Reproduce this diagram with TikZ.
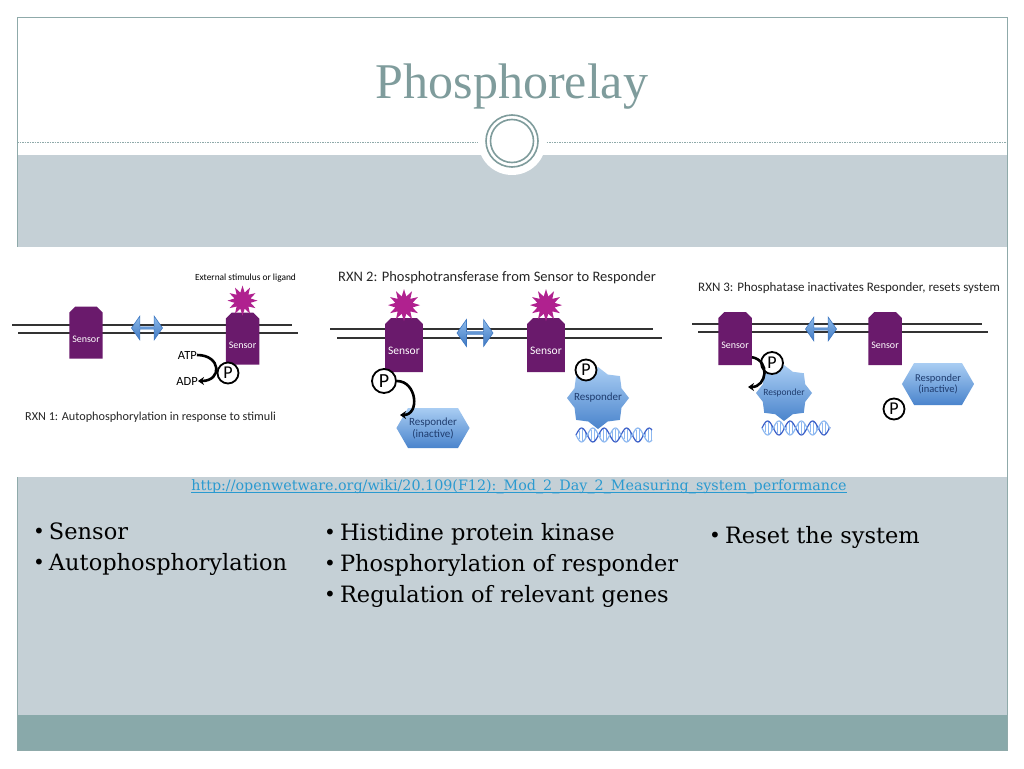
\documentclass[tikz,border=0pt]{standalone}
\usepackage{fontspec}
\setmainfont{DejaVu Serif}
\newfontfamily\titlefont{Liberation Serif}
\newfontfamily\panelfont{Carlito}
\usetikzlibrary{positioning,shapes.misc,shapes.geometric,shapes.arrows,shapes.symbols,arrows.meta}
\definecolor{framegray}{HTML}{8FAAAA}
\definecolor{bandgray}{HTML}{C5D0D6}
\definecolor{bandteal}{HTML}{89A9AA}
\definecolor{titleteal}{HTML}{7F9C9C}
\definecolor{sensorpurple}{HTML}{6A1A6C}
\definecolor{ligandpink}{HTML}{B0218F}
\definecolor{linkblue}{HTML}{2A9AD0}
\definecolor{resplight}{HTML}{A9CDF3}
\definecolor{respdark}{HTML}{4A84CC}
\definecolor{movelight}{HTML}{8DBBEB}
\definecolor{movedark}{HTML}{3F78C2}
\definecolor{resptext}{HTML}{1F3C6E}
\definecolor{dnadark}{HTML}{3B5FC8}
\definecolor{dnalight}{HTML}{8DB8F0}
\newcommand\bul{{\fontsize{20}{31}\selectfont\raisebox{1pt}{•}}\hspace{4pt}}
\begin{document}
\begin{tikzpicture}[x=1pt,y=1pt]
    \tikzstyle{sensor}=[chamfered rectangle, chamfered rectangle corners={north west,north east},
        chamfered rectangle xsep=3pt, chamfered rectangle ysep=3pt, fill=sensorpurple, text=white,
        minimum width=29pt, minimum height=52pt, inner sep=0pt, text height=19pt, text depth=0pt,
        font=\panelfont\fontsize{10}{10}\selectfont]
    \tikzstyle{ligand}=[star, star points=12, star point ratio=1.8, fill=ligandpink, minimum size=30pt, inner sep=0pt]
    \tikzstyle{exchange}=[double arrow, double arrow head extend=3pt, double arrow tip angle=110,
        minimum height=31pt, minimum width=24pt, inner sep=0pt, top color=movelight, bottom color=movedark,
        draw=movedark, line width=0.6pt]
    \tikzstyle{phos}=[circle, draw=black, line width=1.8pt, fill=white, minimum size=21pt, inner sep=0pt,
        font=\panelfont\fontsize{18}{18}\selectfont]
    \tikzstyle{respon}=[star, star points=8, star point ratio=1.22, minimum size=62pt, inner sep=-9pt,
        top color=resplight, bottom color=respdark, text=resptext, font=\panelfont\fontsize{10.5}{10.5}\selectfont]
    \tikzstyle{respoff}=[signal, signal to=east and west, signal pointer angle=120, minimum width=55pt,
        minimum height=40pt, inner sep=1pt, top color=resplight, bottom color=respdark, text=resptext,
        align=center, font=\panelfont\fontsize{11}{12}\selectfont]
    \tikzstyle{relay}=[line width=2.6pt, -{Stealth[length=6pt,width=8pt]}]
    \tikzstyle{membrane}=[line width=1.6pt, draw=black!80]
    \tikzstyle{rxn}=[font=\panelfont\fontsize{12.2}{12.2}\selectfont, text=black!85, inner sep=0pt, anchor=west]
    \tikzstyle{lab}=[font=\panelfont\fontsize{12.5}{12.5}\selectfont, inner sep=0pt]
    \tikzstyle{dnarung}=[dnalight, line width=0.8pt]
    \tikzstyle{points}=[anchor=north west, align=left, inner sep=0pt, font=\fontsize{22.5}{31}\selectfont]

    % slide frame
    \fill[white] (0,0) rectangle (1024,-768);
    \fill[bandgray] (17,-155) rectangle (1007,-715);
    \fill[bandteal] (17,-715) rectangle (1007,-750);
    \draw[framegray, dash pattern=on 1.5pt off 1pt, line width=0.8pt] (17,-142) -- (486,-142) (539,-142) -- (1007,-142);
    \fill[white] (512,-141) circle (34);
    \draw[titleteal, line width=1.6pt] (512,-141) circle (26) (512,-141) circle (21.5);
    \draw[framegray, line width=0.8pt] (17,-17) rectangle (1007,-750);
    \node[font=\titlefont\fontsize{50}{50}\selectfont, text=titleteal, anchor=base] (title) at (512,-98) {Phosphorelay};

    % picture area
    \fill[white] (0,-247) rectangle (1007,-477);

    % RXN 1
    \draw[membrane] (12,-325) -- (292,-325) (18,-333) -- (298,-333);
    \node[sensor] (sensA) at (86,-332.5) {Sensor};
    \node[exchange] (moveA) at (147,-328) {};
    \node[sensor] (sensB) at (242.5,-338.5) {Sensor};
    \node[ligand, above=-4pt of sensB] (ligA) {};
    \node[lab, font=\panelfont\fontsize{9.4}{9.4}\selectfont, above=3pt of ligA, xshift=3pt] (stimA) {External stimulus or ligand};
    \node[phos] (pA) at (228,-373) {P};
    \node[lab, anchor=east] (atp) at (197,-355) {ATP};
    \node[lab, anchor=east] (adp) at (198,-381) {ADP};
    \draw[relay] (atp.east) to[out=0,in=0,looseness=2.4] (adp.east);
    \node[rxn] (rxnA) at (25,-417) {RXN 1: Autophosphorylation in response to stimuli};

    % RXN 2
    \node[rxn, font=\panelfont\fontsize{14.5}{14.5}\selectfont] (rxnB) at (338,-278) {RXN 2: Phosphotransferase from Sensor to Responder};
    \draw[membrane] (330,-329) -- (653,-329) (337,-338) -- (662,-338);
    \node[sensor, minimum width=32pt, minimum height=54pt, font=\panelfont\fontsize{11.5}{11.5}\selectfont] (sensC) at (404,-345) {Sensor};
    \node[ligand, minimum size=32pt, above=-4pt of sensC] (ligB) {};
    \node[exchange, minimum height=36pt, minimum width=27pt] (moveB) at (475,-333) {};
    \node[sensor, minimum width=34pt, minimum height=54pt, font=\panelfont\fontsize{11.5}{11.5}\selectfont] (sensD) at (546,-345) {Sensor};
    \node[ligand, minimum size=32pt, above=-4pt of sensD] (ligC) {};
    \node[phos, minimum size=24pt, font=\panelfont\fontsize{20}{20}\selectfont] (pB) at (384,-381) {P};
    \node[respoff] (respB) at (433,-428) {Responder\\(inactive)};
    \coordinate (tipB) at (400,-415);
    \draw[relay] (pB.east) to[out=0,in=0,looseness=1.5] (tipB);
    \node[respon, font=\panelfont\fontsize{11}{11}\selectfont] (respC) at (598,-398) {Responder};
    \node[phos] (pC) at (586,-370) {P};

    % RXN 3
    \node[rxn, font=\panelfont\fontsize{13}{13}\selectfont] (rxnC) at (698,-288) {RXN 3: Phosphatase inactivates Responder, resets system};
    \draw[membrane] (692,-324) -- (982,-324) (698,-332) -- (988,-332);
    \node[sensor, minimum width=30pt, minimum height=53pt] (sensE) at (735,-338.5) {Sensor};
    \node[exchange] (moveC) at (821,-329) {};
    \node[sensor, minimum width=30pt, minimum height=53pt] (sensF) at (885,-338.5) {Sensor};
    \node[respon, minimum size=56pt, font=\panelfont\fontsize{9.5}{9.5}\selectfont] (respD) at (784,-393) {Responder};
    \node[phos, minimum size=22pt] (pD) at (772,-363) {P};
    \coordinate (tipD) at (748,-387);
    \draw[relay] ([yshift=8pt]sensE.south east) to[out=-10,in=0,looseness=1.6] (tipD);
    \node[phos] (pE) at (894,-409) {P};
    \node[respoff, minimum width=49pt, minimum height=42pt, font=\panelfont\fontsize{10.5}{11.5}\selectfont] (respE) at (938,-384) {Responder\\(inactive)};

    % DNA helices
    \foreach \dx/\dy/\len in {576/435/76, 762/428/68}{
        \foreach \t in {0,3,...,\len}
            \draw[dnarung] (\dx+\t, {-\dy+6*sin(\t*16)}) -- (\dx+\t, {-\dy-6*sin(\t*16)});
        \draw[dnadark, line width=1.2pt] plot[domain=0:\len, samples=60] ({\dx+\x}, {-\dy+7*sin(\x*16)});
        \draw[dnalight, line width=1.2pt] plot[domain=0:\len, samples=60] ({\dx+\x}, {-\dy-7*sin(\x*16)});
    }

    % source link
    \node[font=\fontsize{14.3}{14.3}\selectfont, text=linkblue, anchor=base, inner sep=0pt] (link) at (519,-490)
        {http://openwetware.org/wiki/20.109(F12):\_Mod\_2\_Day\_2\_Measuring\_system\_performance};
    \draw[linkblue, line width=0.6pt] ([yshift=-2pt]link.base west) -- ([yshift=-2pt]link.base east);

    % bullet columns
    \node[points] (colA) at (33,-523) {\bul Sensor\\\bul Autophosphorylation};
    \node[points] (colB) at (324,-523) {\bul Histidine protein kinase\\\bul Phosphorylation of responder\\\bul Regulation of relevant genes};
    \node[points] (colC) at (709,-526) {\bul Reset the system};
\end{tikzpicture}
\end{document}
